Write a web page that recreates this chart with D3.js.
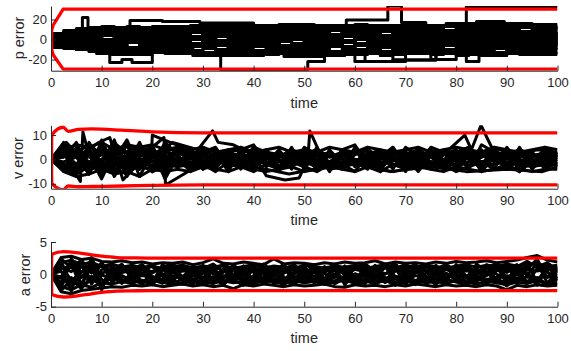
<!DOCTYPE html>
<html>
<head>
<meta charset="utf-8">
<title>estimation errors</title>
<script src="https://d3js.org/d3.v7.min.js"></script>
<style>
    html, body { margin: 0; padding: 0; background: #fff; }
    svg { display: block; }
    .axis path, .axis line { stroke: #262626; stroke-width: 1px; }
    .axis text { fill: #262626; font-size: 13px; font-family: "Liberation Sans", Arial, sans-serif; }
    .trace { fill: none; stroke: #000; stroke-width: 3px; stroke-linejoin: round; }
    .bound { fill: none; stroke: #ff0000; stroke-width: 3.3px; stroke-linejoin: round; }
    .lbl { fill: #262626; font-size: 14.5px; font-family: "Liberation Sans", Arial, sans-serif; }
</style>
</head>
<body>
<script>

// x ticks shared by the three panels
var xTicks = [0, 10, 20, 30, 40, 50, 60, 70, 80, 90, 100];

// ---- p error (step traces) ----
var pTime = [0, 2.5, 5, 7.5, 10, 12.5, 15, 17.5, 20, 22.5, 25, 27.5, 30, 32.5, 35, 37.5, 40, 42.5, 45, 47.5, 50,
             52.5, 55, 57.5, 60, 62.5, 65, 67.5, 70, 72.5, 75, 77.5, 80, 82.5, 85, 87.5, 90, 92.5, 95, 97.5, 100];
var pBand = [
    [5, 7, 10, 11, 12, 11, 12, 12, 13, 12, 13, 14, 15, 14, 15, 14, 13, 14, 15, 14, 13, 14, 13, 14, 15, 14, 13, 14, 15, 14, 13, 14, 15, 16, 15, 16, 15, 14, 15, 14, 14],
    [4, 5, 8, 9, 10, 8, 9, 10, 9, 11, 10, 9, 10, 11, 9, 10, 11, 10, 9, 11, 10, 9, 11, 10, 9, 10, 11, 10, 9, 11, 10, 9, 10, 11, 12, 10, 11, 12, 10, 11, 10],
    [3, 3, 5, 6, 4, 6, 7, 5, 6, 4, 6, 7, 5, 6, 4, 7, 6, 5, 7, 6, 4, 6, 5, 7, 6, 5, 4, 6, 7, 5, 6, 4, 7, 6, 5, 7, 6, 5, 7, 6, 5],
    [1, 2, 3, 1, 4, 2, 3, 1, 2, 4, 3, 2, 1, 3, 4, 2, 3, 1, 2, 4, 3, 1, 2, 3, 4, 2, 1, 3, 2, 4, 3, 2, 1, 3, 4, 2, 3, 1, 2, 4, 3],
    [0, -1, 1, 0, -2, 0, 1, -1, 0, -2, 1, 0, -1, -2, 0, 1, -1, 0, -2, 1, 0, -1, 1, -2, 0, -1, 1, 0, -2, -1, 0, 1, -1, 0, -2, 1, 0, -1, 1, 0, -1],
    [-2, -2, -3, -4, -2, -5, -3, -4, -2, -5, -3, -4, -5, -2, -3, -4, -5, -3, -2, -4, -5, -3, -4, -2, -5, -3, -4, -2, -3, -5, -4, -2, -3, -5, -4, -3, -2, -4, -5, -3, -4],
    [-3, -4, -6, -5, -7, -6, -8, -5, -7, -6, -8, -7, -5, -6, -8, -7, -6, -5, -8, -7, -6, -8, -5, -7, -6, -8, -7, -5, -6, -8, -7, -6, -5, -7, -8, -6, -7, -5, -8, -6, -7],
    [-4, -5, -8, -9, -10, -9, -11, -10, -9, -11, -10, -12, -9, -11, -10, -12, -11, -9, -10, -12, -11, -10, -12, -9, -11, -10, -12, -11, -9, -10, -12, -11, -10, -12, -11, -9, -10, -12, -11, -10, -11],
    [-6, -7, -9, -11, -12, -13, -14, -12, -13, -12, -14, -13, -14, -15, -13, -14, -13, -15, -14, -13, -14, -15, -13, -14, -15, -14, -16, -15, -14, -13, -15, -14, -16, -15, -14, -13, -14, -15, -13, -14, -14],
    [2, 4, -3, 7, -6, 9, -2, 5, -9, 3, 11, -4, 8, -10, 2, 12, -7, 6, -12, 1, 9, -5, 13, -8, 4, -11, 10, -3, 7, -13, 5, 14, -6, 2, -9, 11, -4, 8, -12, 6, 3],
    [-1, -3, 6, -7, 10, -1, -9, 7, 2, -11, 8, -5, 12, -2, -8, 9, 3, -12, 6, -6, 13, -9, 1, 10, -4, 7, -13, 12, -1, 8, -10, 4, 13, -7, 9, -2, -11, 14, -5, 1, -3],
    [1, 1, -5, 4, -1, 8, 5, -6, 11, 7, -2, 10, -8, 4, 12, -3, 9, -6, 11, 5, -9, 8, -1, 12, -6, 3, 9, -9, 11, 2, -5, 8, -12, 10, 5, -7, 12, -2, 9, -8, 4],
    [6, 8, 11, 12, 13, 12, 13, 11, 12, 13, 12, 11, 13, 12, 13, 12, 14, 12, 13, 12, 14, 12, 14, 13, 12, 13, 14, 12, 13, 12, 14, 13, 12, 14, 13, 14, 13, 12, 13, 12, 13],
    [4, 6, 7, 8, 7, 9, 8, 7, 8, 9, 7, 8, 9, 7, 8, 9, 8, 7, 9, 8, 7, 8, 9, 8, 7, 9, 8, 7, 8, 9, 7, 8, 9, 8, 7, 9, 8, 7, 9, 8, 8],
    [2, 4, 2, 3, 5, 3, 4, 2, 3, 5, 4, 3, 2, 4, 5, 3, 4, 2, 3, 5, 2, 4, 3, 5, 2, 4, 3, 5, 4, 2, 3, 5, 4, 2, 3, 5, 4, 2, 3, 5, 4],
    [-1, 0, -1, 1, 0, -1, 0, 1, -1, 0, -1, 1, 0, -1, 1, -1, 0, -1, 1, 0, -1, 0, 1, -1, 1, 0, -1, 1, 0, 1, -1, 0, 1, -1, 0, -1, 1, 0, -1, 1, 0],
    [-3, -3, -4, -3, -5, -4, -3, -6, -4, -3, -5, -6, -4, -3, -5, -6, -3, -4, -6, -5, -3, -4, -6, -3, -4, -5, -3, -6, -4, -3, -5, -4, -6, -3, -5, -4, -6, -3, -4, -5, -3],
    [-6, -7, -8, -9, -8, -7, -9, -8, -10, -8, -9, -7, -8, -10, -9, -8, -7, -10, -9, -8, -10, -9, -7, -8, -10, -9, -8, -10, -7, -9, -8, -10, -9, -8, -10, -7, -9, -8, -10, -9, -8],
    [-8, -9, -10, -12, -11, -12, -13, -11, -12, -14, -12, -11, -13, -12, -14, -11, -12, -13, -11, -14, -12, -13, -14, -12, -13, -11, -14, -12, -13, -14, -12, -13, -11, -14, -12, -13, -12, -14, -12, -13, -12],
    [5, 9, 2, -6, 10, -3, 6, -10, 8, 1, -7, 11, -3, 9, -11, 5, 12, -4, 7, -9, 2, 11, -6, 8, -13, 4, 12, -8, 3, 10, -12, 6, -4, 13, -8, 2, 9, -11, 5, 12, -6]
];
// traces with their own [time, value] change points
var pJumps = [
    [[0, 0], [2, 6], [4, 9], [6.2, 22], [7.3, 8], [9, -14], [11.6, -23], [14, -20], [16, -23], [20, -12], [24, -8], [28, -16],
     [33.5, -30], [50.7, -22], [54, -16], [58, -14], [62, -22], [70, -12], [75, -20], [80, -10], [85, -13], [90, -12], [95, -15], [100, -15]],
    [[0, 0], [3, 8], [8, 12], [15.6, 19], [22, 18], [29.4, 16.5], [40, 13], [46, 15], [52, 12], [58.3, 19.5], [66.5, 33.5],
     [69.2, 17], [74, 14], [78, 16], [84, 18], [89.5, 16], [95, 15], [100, 15]],
    [[0, 0], [4, -9], [10, -12], [18, -10], [26, -14], [34, -16], [42, -13], [50, -15], [56, -12], [62, -14], [67.5, -20.5],
     [76, -13], [82, 33], [100, 33]],
    [[0, 0], [5, -10], [12, -15], [20, -13], [30, -16], [38, -14], [46, -17], [54, -15], [60, -22], [67.5, -20.5], [76, -14],
     [82, -22], [84.5, -16], [90, -13], [100, -13]]
];
var pBoundT = [0.1, 0.15, 0.45, 2.4, 100];
var pUpper = [0, 10, 14.5, 30.3, 30.3];
var pLower = [0, -10.5, -15.5, -29.6, -29.6];

// ---- v error (zigzag traces) ----
var vTime = pTime;
var vBand = [
    [0, 4, 6, 5, 7, 4, 6, 5, 6, 4, 5, 4, 5, 3, 4, 5, 3, 4, 5, 3, 4, 3, 5, 4, 3, 5, 4, 3, 4, 5, 3, 4, 5, 4, 3, 5, 4, 3, 4, 5, 4],
    [0, 2, 3, 1, 4, 2, 3, 2, 1, 3, 2, 3, 1, 2, 3, 1, 2, 3, 2, 1, 3, 2, 1, 2, 3, 1, 2, 3, 1, 2, 3, 2, 1, 3, 2, 1, 2, 3, 1, 2, 2],
    [0, -1, 1, -2, 0, 1, -1, 0, 1, -1, 0, 1, -1, 0, 1, 0, -1, 1, 0, -1, 1, 0, -1, 1, 0, -1, 0, 1, -1, 0, 1, -1, 0, 1, -1, 0, 1, 0, -1, 1, 0],
    [0, -3, -2, -4, -3, -5, -2, -3, -4, -2, -3, -2, -3, -1, -2, -3, -2, -1, -3, -2, -1, -3, -2, -1, -2, -3, -1, -2, -3, -2, -1, -3, -2, -1, -3, -2, -1, -2, -3, -2, -2],
    [0, -5, -7, -6, -4, -6, -5, -7, -4, -5, -4, -5, -3, -4, -5, -3, -4, -5, -4, -3, -5, -4, -3, -4, -5, -3, -4, -5, -4, -3, -4, -5, -3, -4, -5, -4, -3, -4, -5, -4, -4],
    [0, 6, -4, 3, -7, 5, -2, 7, -5, 2, -3, 4, -2, 3, -4, 2, -1, 4, -3, 1, 3, -4, 2, -2, 4, -3, 1, 5, -2, 3, -4, 2, 4, -3, 1, 5, -2, 3, -4, 2, 1],
    [0, -4, 5, -6, 8, -3, 6, -7, 3, -4, 5, -2, 4, -3, 2, -4, 3, -2, 4, -3, 2, 4, -3, 3, -2, 5, -4, 2, 3, -3, 4, -2, 3, 5, -4, 2, -3, 4, 2, -3, 3],
    [0, 3, -6, 7, -2, 8, -6, 4, -3, 7, 2, -4, 3, 5, -3, 4, 6, -2, 3, -4, 5, 2, -3, 4, 6, -2, 3, -4, 5, 1, -3, 4, 2, -4, 6, 3, -2, 4, -3, 5, 2],
    [0, 1, 7, -5, 4, -7, 2, -4, 6, -6, 4, 3, -4, -2, 4, -2, 5, 3, -4, 4, -3, 5, -4, -3, 2, 4, -3, 5, -4, -2, 5, 3, -4, 2, 4, -4, 5, -2, 3, -4, -1],
    [0, -2, -5, 2, -8, 3, -7, 1, 4, -8, 1, -5, 2, -4, 3, 1, -4, 2, -5, 3, 1, -4, 4, -2, -5, 2, 4, -3, 1, -5, 2, -4, 1, 3, -5, 1, 4, -5, 2, -2, 0],
    [0, 5, 3, 6, 2, 5, 3, 6, 2, 5, 3, 2, 4, 1, 3, 4, 2, 3, 1, 4, 2, 4, 1, 3, 2, 4, 1, 3, 2, 4, 1, 3, 2, 4, 1, 3, 2, 4, 1, 3, 2],
    [0, -2, -4, -1, -5, -2, -4, -1, -3, 0, -2, -1, -3, 0, -2, -3, 0, -2, -1, -3, 0, -2, -3, -1, 0, -2, -3, 0, -1, -3, -2, 0, -3, -1, -2, 0, -3, -1, -2, 0, -1],
    [0, 3, -2, 4, -3, 2, -4, 3, -1, 2, -2, 3, 0, -2, 2, -3, 1, -2, 3, 0, -3, 2, -1, 3, -2, 1, 3, -3, 2, 0, -2, 3, -1, 2, -3, 1, -2, 3, 0, -2, 1],
    [0, -4, 4, -2, 6, -5, 3, -3, 5, -3, 1, -3, 2, -2, 0, 3, -3, 0, 2, -2, 4, -1, -3, 2, 0, -4, 2, 1, -3, 3, -1, -2, 3, -3, 2, -1, 3, -3, 1, 3, -2],
    [0, 5, -5, 5, -6, 6, -4, 5, -5, 6, -3, 4, -4, 3, -5, 4, -3, 3, -4, 5, -4, 3, -5, 4, -3, 3, -5, 4, -3, 4, -4, 3, -3, 4, -4, 3, -4, 5, -3, 4, -3],
    [0, 1, 4, 2, -1, 3, 0, 2, 4, 1, 3, 0, 2, 4, 1, 2, 0, 3, 1, 2, 0, 3, 2, 0, 3, 1, 2, 0, 3, 1, 2, 0, 3, 1, 2, 3, 0, 2, 1, 3, 1],
    [0, -3, -6, -3, -1, -4, -6, -2, -5, -3, -1, -4, -2, -5, -1, -3, -5, -2, -4, -1, -3, -5, -2, -4, -1, -3, -5, -2, -4, -1, -3, -2, -5, -3, -1, -4, -2, -5, -1, -3, -2],
    [0, 7, 1, -6, 5, 0, 8, -4, 2, -5, 6, 1, -4, 4, 0, -2, 5, -3, 1, 4, -2, 0, 3, -4, 5, 0, -2, 2, -5, 4, 1, -3, 0, 3, -2, 4, -4, 1, 3, -3, 2]
];
var vJumps = [
    [[0, 0], [2, 5], [4, -3], [5.8, -9], [6.3, 11.3], [7.2, 4], [9.5, 7], [11.6, 9], [12.2, 5], [14.2, -8.4], [17, -2], [20, 3],
     [25, -1], [30, 2], [35, -2], [40, 3], [45, -1], [55, 2], [65, -2], [75, 3], [85, -1], [95, 2], [100, 1]],
    [[0, 0], [3, 7], [8, -4], [13, 6], [18, -3], [24, 7], [29, 4], [31.9, 11.7], [33, 7], [36, 6], [40, 2], [42.5, -6.7],
     [46.2, -8.4], [49, -7.6], [50.7, 0], [51.1, 11.7], [53, 3], [56, 1], [62, 4], [70, -2], [78, 3], [81.7, 10], [83, 4],
     [84.9, 14], [87, 5], [92, 2], [96, 4], [100, 3]],
    [[0, 0], [4, -6], [10, 2], [15, -3], [19.8, 0], [20, 10], [29.5, 2], [35, -1], [45, 2], [55, -2], [65, 1], [75, -1],
     [85, 2], [95, -1], [100, 0]],
    [[0, 0], [5, 3], [10, -5], [15, 2], [20, 5], [22.3, 9], [22.6, -10.5], [29.5, -2], [34, 1], [40, -3], [47, -6], [52, -4],
     [60, -2], [67, -5], [75, -3], [82, -5], [90, -4], [97, -5], [100, -3]]
];
var vBoundT = [0.1, 0.15, 2.4, 3.4, 5.4, 8, 14, 20, 30, 100];
var vUpper = [0, 10, 13.2, 11.5, 12.3, 12.5, 12, 11.3, 10.9, 10.9];
var vLower = [0, -9.8, -12.4, -10.9, -11.2, -11.1, -10.9, -10.6, -10.4, -10.4];

// ---- a error (noisy traces) ----
var aTime = [0, 2, 4, 6, 8, 10, 12, 14, 16, 18, 20, 22, 24, 26, 28, 30, 32, 34, 36, 38, 40, 42, 44, 46, 48, 50,
             52, 54, 56, 58, 60, 62, 64, 66, 68, 70, 72, 74, 76, 78, 80, 82, 84, 86, 88, 90, 92, 94, 96, 98, 100];
var aBand = [
    [0, 2.6, 2.8, 2.3, 2.5, 2.0, 1.9, 2.1, 1.8, 1.9, 1.6, 1.8, 1.7, 1.9, 1.5, 1.8, 2.4, 1.7, 1.6, 1.9, 1.7, 1.5, 2.4, 1.6, 1.8, 1.7, 1.5, 1.8, 1.6, 1.9, 1.7, 1.8, 2.1, 1.6, 1.9, 1.7, 1.8, 1.6, 1.9, 1.7, 2.0, 1.8, 1.9, 2.1, 1.8, 2.0, 2.2, 2.6, 2.9, 2.2, 1.9],
    [0, 1.8, 2.2, 1.5, 1.9, 1.2, 1.6, 1.1, 1.4, 1.0, 1.3, 0.9, 1.2, 1.4, 1.0, 1.3, 1.1, 1.4, 0.9, 1.2, 1.5, 1.0, 1.3, 1.1, 0.9, 1.4, 1.2, 1.0, 1.3, 1.1, 1.4, 0.9, 1.2, 1.5, 1.0, 1.3, 1.1, 1.4, 1.2, 0.9, 1.3, 1.5, 1.1, 1.4, 1.2, 1.6, 1.3, 1.5, 1.7, 1.2, 1.4],
    [0, 0.9, 1.3, 0.4, 0.8, 0.2, 0.7, 0.3, 0.6, 0.1, 0.5, 0.7, 0.2, 0.6, 0.4, 0.8, 0.1, 0.5, 0.7, 0.3, 0.6, 0.2, 0.8, 0.4, 0.1, 0.6, 0.3, 0.7, 0.5, 0.2, 0.8, 0.4, 0.6, 0.1, 0.5, 0.7, 0.3, 0.6, 0.2, 0.8, 0.4, 0.5, 0.7, 0.3, 0.6, 0.9, 0.4, 0.7, 0.5, 0.8, 0.6],
    [0, -0.6, -1.2, -0.3, -0.9, -0.1, -0.6, -0.4, -0.7, -0.2, -0.5, -0.8, -0.3, -0.6, -0.1, -0.7, -0.4, -0.2, -0.6, -0.8, -0.3, -0.5, -0.1, -0.7, -0.4, -0.6, -0.2, -0.8, -0.3, -0.5, -0.7, -0.1, -0.4, -0.6, -0.3, -0.8, -0.2, -0.5, -0.7, -0.4, -0.1, -0.6, -0.3, -0.8, -0.5, -0.2, -0.7, -0.4, -0.6, -0.3, -0.5],
    [0, -1.9, -2.4, -1.6, -2.0, -1.3, -1.5, -1.1, -1.4, -0.9, -1.2, -1.0, -1.3, -1.5, -0.9, -1.2, -1.4, -1.0, -1.3, -1.1, -1.5, -0.9, -1.2, -1.4, -1.0, -1.3, -1.1, -1.5, -1.2, -0.9, -1.4, -1.1, -1.3, -1.0, -1.5, -1.2, -0.9, -1.3, -1.1, -1.4, -1.0, -1.2, -1.5, -1.1, -1.3, -1.6, -1.2, -1.4, -1.0, -1.5, -1.3],
    [0, -2.7, -3.0, -2.5, -2.3, -2.1, -1.9, -2.0, -1.7, -1.8, -1.6, -1.9, -1.7, -1.5, -1.8, -1.6, -1.9, -1.7, -2.2, -1.6, -1.8, -1.5, -1.7, -1.9, -1.6, -1.8, -1.7, -1.5, -1.9, -2.0, -1.6, -1.8, -1.7, -1.9, -1.6, -1.8, -1.5, -1.7, -1.9, -1.6, -1.8, -1.7, -1.9, -1.6, -1.8, -2.4, -1.7, -1.9, -1.6, -1.8, -1.7],
    [0, 2.1, -1.8, 1.4, -0.9, 1.7, -1.2, 0.6, 1.3, -1.5, 0.4, 1.1, -0.7, 1.5, -1.3, 0.2, 1.2, -1.6, 0.8, -0.3, 1.4, -1.1, 0.5, 1.6, -0.8, 0.9, -1.4, 1.2, -0.2, -1.3, 1.5, 0.3, -0.9, 1.3, -1.5, 0.7, 1.6, -0.6, 0.2, -1.2, 1.4, -0.4, 1.1, -1.6, 0.6, 1.3, -0.9, 1.7, -1.2, 0.8, 0.3],
    [0, -2.2, 2.4, -0.5, 1.6, -1.7, 0.9, -1.3, 0.3, 1.4, -0.8, -1.4, 1.0, -0.4, 1.3, -1.1, 0.7, 1.5, -1.2, 0.5, -0.9, 1.3, -1.5, 0.2, 1.1, -1.2, 0.6, -0.7, 1.4, 0.4, -1.1, 1.2, -1.4, 0.1, 1.0, -1.6, 0.3, 1.5, -1.0, 0.9, -0.3, -1.4, 1.6, 0.4, -1.3, 0.8, 1.5, -0.2, 1.8, -1.4, 0.6],
    [0, 0.5, -2.6, 2.0, -1.5, 0.7, 1.5, -0.9, -1.4, 0.8, 1.2, -0.3, -1.2, 0.9, 0.1, 1.4, -1.0, 0.3, 1.1, -1.4, -0.2, 1.2, -0.6, -1.3, 1.4, 0.2, 1.0, -1.2, -0.5, 1.3, -0.8, -1.5, 0.9, 1.4, -0.4, -1.1, 1.2, 0.5, -1.5, 1.3, -0.7, 1.0, -1.1, 0.2, 1.5, -0.6, -1.4, 0.9, 2.3, -0.5, 1.1],
    [0, -1.3, 1.7, -2.1, 2.6, -0.8, -1.6, 1.4, -0.5, 0.9, -1.3, 1.5, 0.4, -1.1, 0.8, -0.6, 1.3, -1.3, 0.0, 1.2, -1.5, 0.6, 1.0, -0.4, -1.4, 1.3, -0.9, 0.7, 1.2, -1.6, 0.1, -0.5, 1.4, -1.2, 0.6, 1.1, -1.4, 0.2, 0.9, -1.0, 1.5, -1.5, 0.3, 1.2, -0.9, -1.2, 1.4, 0.1, -1.7, 1.6, -0.8],
    [0, 1.2, 0.4, 1.9, 0.6, 1.5, 0.3, 1.2, 0.8, 1.5, 0.2, 1.1, 1.6, 0.5, 1.2, 0.9, 1.6, 0.4, 1.3, 0.7, 1.1, 1.6, 0.3, 1.2, 0.6, 1.5, 0.9, 0.3, 1.4, 0.7, 1.2, 1.6, 0.5, 1.1, 0.8, 1.6, 0.4, 1.2, 0.9, 1.5, 0.6, 1.3, 0.2, 1.5, 0.9, 1.4, 0.6, 1.2, 1.8, 0.7, 1.2],
    [0, -1.4, -0.5, -2.0, -0.8, -1.6, -0.4, -1.3, -0.7, -1.5, -0.3, -1.2, -1.6, -0.6, -1.1, -1.5, -0.4, -1.3, -0.8, -1.7, -0.5, -1.2, -0.9, -1.6, -0.3, -1.3, -0.7, -1.5, -1.0, -0.4, -1.4, -0.8, -1.6, -0.5, -1.2, -0.9, -1.6, -0.3, -1.4, -0.7, -1.2, -1.6, -0.5, -1.3, -0.8, -1.7, -0.6, -1.2, -0.9, -1.5, -0.7],
    [0, 2.4, 1.0, 2.2, 0.2, 1.8, -0.2, 1.4, 0.1, 0.9, 1.5, -0.1, 0.8, 1.4, -0.3, 1.0, 0.4, 1.5, -0.2, 1.1, 0.3, 1.4, -0.1, 0.9, 1.5, 0.0, 1.2, 0.5, 1.6, -0.2, 0.8, 1.3, -0.1, 1.0, 1.6, 0.2, 0.9, 1.5, -0.3, 1.1, 0.4, 1.6, 0.0, 1.0, 1.7, 0.3, 1.2, 2.0, 1.1, 1.8, 0.6],
    [0, -2.5, -0.8, -2.2, -0.3, -1.9, 0.2, -1.4, -0.2, -1.0, -1.6, 0.1, -0.9, -1.5, 0.2, -1.1, -0.4, -1.7, 0.0, -1.2, -0.5, -1.4, 0.1, -1.0, -1.6, -0.2, -1.3, 0.2, -1.5, -0.6, -1.1, 0.1, -1.4, -0.8, -1.7, 0.0, -1.2, -0.4, -1.6, 0.2, -0.9, -1.5, -0.1, -1.3, -0.6, -1.8, 0.1, -1.1, -0.5, -1.6, -0.3],
    [0, 1.5, -1.0, 0.3, 1.8, -1.9, 0.5, 1.6, -0.8, 0.2, -1.1, 0.6, 1.4, -0.5, -1.6, 0.9, 0.2, -0.7, 1.5, -0.9, 0.8, 0.1, -1.3, 0.7, 1.3, -0.6, 0.4, -1.5, 0.9, 1.1, -0.3, -1.0, 0.5, 1.6, -0.7, 0.2, -1.3, 1.2, 0.6, -0.8, 0.9, -0.2, -1.4, 1.3, 0.0, -0.7, 0.8, -1.5, 1.0, 0.4, -1.0],
    [0, -0.4, 2.0, -1.5, 1.1, -2.4, 1.3, -0.2, -1.0, 1.0, -0.4, -1.1, 0.3, 1.1, -0.9, 0.5, -1.5, 0.9, -0.5, 1.3, -1.2, -0.3, 1.2, -1.0, 0.4, -0.1, 1.5, -1.0, 0.0, 1.2, -1.4, 0.7, -0.2, -1.3, 1.3, -0.4, 0.6, -1.1, 1.4, -0.5, 0.1, 1.2, -0.8, -0.2, 1.3, -1.5, 0.5, 0.2, -1.1, 1.2, -0.2]
];
var aBoundT = [0.1, 0.15, 2.5, 5, 8, 10, 13, 16, 20, 100];
var aUpper = [0, 3.1, 3.5, 3.35, 3.0, 2.8, 2.6, 2.55, 2.5, 2.5];
var aLower = [0, -3.1, -3.5, -3.35, -3.0, -2.8, -2.6, -2.55, -2.5, -2.5];

var panels = [
    { name: "p error", yDomain: [-31.2, 33.5], yRange: [70.7, 6], ticks: [-20, 0, 20],
      time: pTime, band: pBand, jumps: pJumps, curve: d3.curveStepAfter,
      boundT: pBoundT, upper: pUpper, lower: pLower, boundCurve: d3.curveLinear,
      timeY: 108, labX: 19.5, labY: 38 },
    { name: "v error", yDomain: [-12, 14], yRange: [188.7, 125.3], ticks: [-10, 0, 10],
      time: vTime, band: vBand, jumps: vJumps, curve: d3.curveLinear,
      boundT: vBoundT, upper: vUpper, lower: vLower, boundCurve: d3.curveMonotoneX,
      timeY: 225, labX: 18.5, labY: 158 },
    { name: "a error", yDomain: [-5, 5], yRange: [306.7, 242], ticks: [-5, 0, 5],
      time: aTime, band: aBand, jumps: [], curve: d3.curveLinear,
      boundT: aBoundT, upper: aUpper, lower: aLower, boundCurve: d3.curveMonotoneX,
      timeY: 343, labX: 25.5, labY: 275 }
];

var svg = d3.select("body").append("svg")
    .attr("width", 571)
    .attr("height", 351);

var x = d3.scaleLinear().domain([0, 100]).range([51, 557.5]);

panels.forEach(function(p, k) {
    var y = d3.scaleLinear().domain(p.yDomain).range(p.yRange);

    svg.append("clipPath").attr("id", "clip" + k)
        .append("rect")
        .attr("x", x(0))
        .attr("y", p.yRange[1])
        .attr("width", x(100) - x(0))
        .attr("height", p.yRange[0] - p.yRange[1]);

    var plot = svg.append("g").attr("clip-path", "url(#clip" + k + ")");

    var line = d3.line()
        .x(function(d) { return x(d[0]); })
        .y(function(d) { return y(d[1]); })
        .curve(p.curve);

    p.band.forEach(function(vals) {
        plot.append("path").attr("class", "trace")
            .attr("d", line(vals.map(function(v, i) { return [p.time[i], v]; })));
    });
    p.jumps.forEach(function(pts) {
        plot.append("path").attr("class", "trace").attr("d", line(pts));
    });

    var bline = d3.line()
        .x(function(d) { return x(d[0]); })
        .y(function(d) { return y(d[1]); })
        .curve(p.boundCurve);

    [p.upper, p.lower].forEach(function(b) {
        plot.append("path").attr("class", "bound")
            .attr("d", bline(b.map(function(v, i) { return [p.boundT[i], v]; })));
    });

    svg.append("g").attr("class", "axis")
        .attr("transform", "translate(0," + p.yRange[0] + ")")
        .call(d3.axisBottom(x).tickValues(xTicks).tickSize(-5).tickSizeOuter(0).tickPadding(7.5)
            .tickFormat(function(d) { return String(d); }));

    svg.append("g").attr("class", "axis")
        .attr("transform", "translate(" + x(0) + ",0)")
        .call(d3.axisLeft(y).tickValues(p.ticks).tickSize(-5).tickSizeOuter(0).tickPadding(4)
            .tickFormat(function(d) { return String(d); }));

    svg.append("text").attr("class", "lbl")
        .attr("x", (x(0) + x(100)) / 2)
        .attr("y", p.timeY)
        .attr("text-anchor", "middle")
        .text("time");

    svg.append("text").attr("class", "lbl")
        .attr("transform", "translate(" + p.labX + "," + p.labY + ") rotate(-90)")
        .attr("text-anchor", "middle")
        .attr("dy", "0.32em")
        .text(p.name);
});

</script>
</body>
</html>
